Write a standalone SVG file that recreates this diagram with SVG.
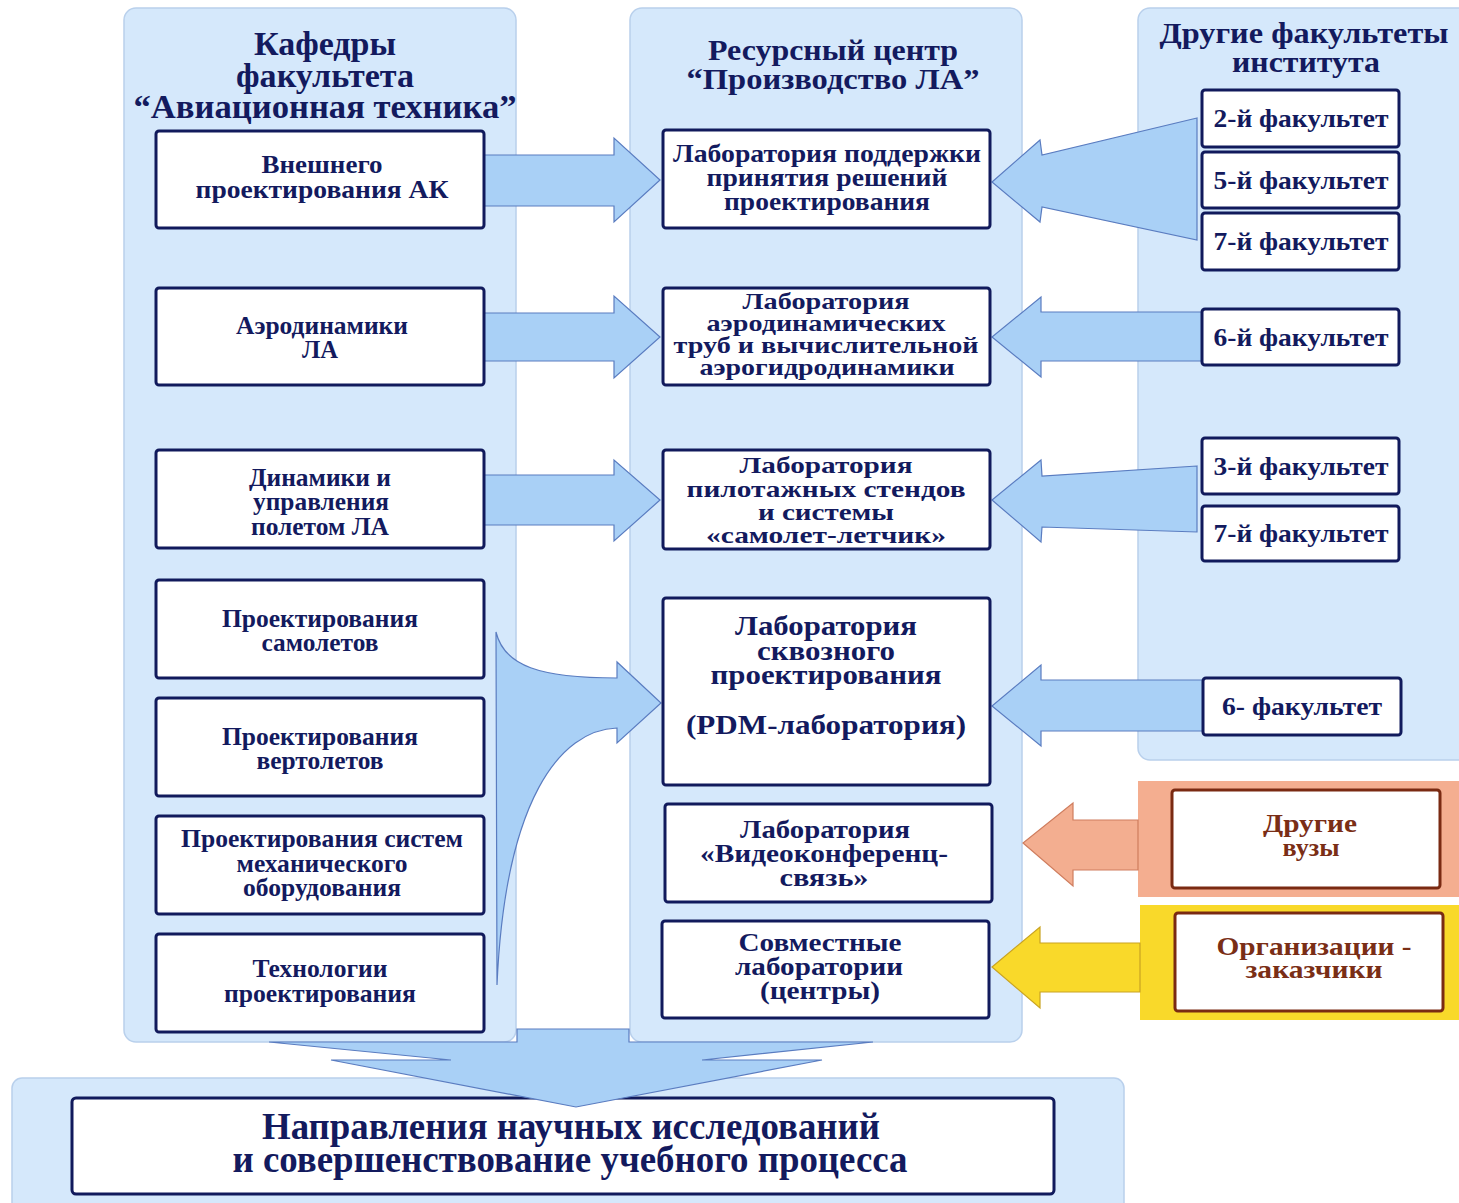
<svg xmlns="http://www.w3.org/2000/svg" width="1459" height="1203" viewBox="0 0 1459 1203">
<style>
.bg{fill:#ffffff}
.panel{fill:#d5e8fb;stroke:#b9d0ec;stroke-width:1.5}
.node{fill:#ffffff;stroke:#111a5c;stroke-width:3}
.bnode{fill:#ffffff;stroke:#7a2a12;stroke-width:3}
.arr{fill:#a9d0f6;stroke:#5a7cc0;stroke-width:1.2}
.oarr{fill:#f3ae90;stroke:#cf7d5e;stroke-width:1.2}
.yarr{fill:#f9d92a;stroke:#c9a322;stroke-width:1.2}
text{font-family:"Liberation Serif","Times New Roman",serif;font-weight:bold;fill:#131a5e;text-anchor:middle}
.t{font-size:25px}
.tm{font-size:24px}
.tr{font-size:26px}
.h{font-size:34px}
.h2{font-size:29px}
.br{fill:#7a2e16;font-size:26px}
.big{font-size:38px}
</style>
<rect class="bg" x="0" y="0" width="1459" height="1203"/>

<g id="panel-left"><rect class="panel" x="124" y="8" width="392" height="1034" rx="12"/></g>
<g id="panel-mid"><rect class="panel" x="630" y="8" width="392" height="1034" rx="12"/></g>
<g id="panel-right"><rect class="panel" x="1138" y="8" width="340" height="752" rx="12"/></g>
<g id="panel-bottom"><rect class="panel" x="12" y="1078" width="1112" height="140" rx="10"/></g>
<g id="panel-vuzy"><rect x="1138" y="781" width="330" height="116" fill="#f4ae90"/></g>
<g id="panel-org"><rect x="1140" y="905" width="330" height="115" fill="#f9d92a"/></g>

<g id="result"><rect class="node" x="72" y="1098" width="982" height="96" rx="4"/>
  <text class="big" x="571" y="1139" textLength="618" lengthAdjust="spacingAndGlyphs">Направления научных исследований</text>
  <text class="big" x="570" y="1172" textLength="675" lengthAdjust="spacingAndGlyphs">и совершенствование учебного процесса</text></g>

<g id="connectors">
  <!-- bottom big down arrow -->
  <polygon class="arr" points="269,1042 517,1042 517,1029 629,1029 629,1042 873,1042 702,1060 822,1060 576,1107 331,1060 451,1060"/>
  <!-- left to middle -->
  <polygon class="arr" points="484,155 614,155 614,138 660,180 614,222 614,206 484,206"/>
  <polygon class="arr" points="484,313 614,313 614,296 660,337 614,378 614,361 484,361"/>
  <polygon class="arr" points="484,475 614,475 614,460 660,500 614,541 614,525 484,525"/>
  <!-- curved arrow -->
  <path class="arr" d="M496,632 C504,666 540,678 617,678 L617,662 L661,703 L617,743 L617,728 C560,730 505,800 497,985 Z"/>
  <!-- right to middle -->
  <polygon class="arr" points="1197,118 1042,155 1040,140 992,182 1040,222 1042,207 1197,240"/>
  <polygon class="arr" points="1202,312 1041,312 1041,297 992,337 1041,377 1041,361 1202,361"/>
  <polygon class="arr" points="1197,466 1042,476 1041,460 992,500 1041,542 1042,527 1197,532"/>
  <polygon class="arr" points="1203,680 1041,680 1041,665 992,706 1041,746 1041,731 1203,731"/>
  <polygon class="oarr" points="1138,820 1073,820 1073,803 1023,843 1073,886 1073,870 1138,870"/>
  <polygon class="yarr" points="1140,943 1040,943 1040,927 992,967 1040,1008 1040,992 1140,992"/>
</g>

<g id="header-left">
  <text class="h" x="325" y="55" textLength="142" lengthAdjust="spacingAndGlyphs">Кафедры</text>
  <text class="h" x="325" y="87" textLength="178" lengthAdjust="spacingAndGlyphs">факультета</text>
  <text class="h" x="325" y="118" textLength="383" lengthAdjust="spacingAndGlyphs">“Авиационная техника”</text>
</g>
<g id="header-mid">
  <text class="h2" x="833" y="60" textLength="250" lengthAdjust="spacingAndGlyphs">Ресурсный центр</text>
  <text class="h2" x="833" y="89" textLength="293" lengthAdjust="spacingAndGlyphs">“Производство ЛА”</text>
</g>
<g id="header-right">
  <text class="h2" x="1304" y="43" textLength="289" lengthAdjust="spacingAndGlyphs">Другие факультеты</text>
  <text class="h2" x="1306" y="72" textLength="148" lengthAdjust="spacingAndGlyphs">института</text>
</g>

<g id="k1"><rect class="node" x="156" y="131" width="328" height="97" rx="3"/>
  <text class="t" x="322" y="173" textLength="121" lengthAdjust="spacingAndGlyphs">Внешнего</text>
  <text class="t" x="322" y="198" textLength="253" lengthAdjust="spacingAndGlyphs">проектирования АК</text></g>
<g id="k2"><rect class="node" x="156" y="288" width="328" height="97" rx="3"/>
  <text class="t" x="322" y="334" textLength="172" lengthAdjust="spacingAndGlyphs">Аэродинамики</text>
  <text class="t" x="320" y="358" textLength="36" lengthAdjust="spacingAndGlyphs">ЛА</text></g>
<g id="k3"><rect class="node" x="156" y="450" width="328" height="98" rx="3"/>
  <text class="t" x="320" y="486" textLength="142" lengthAdjust="spacingAndGlyphs">Динамики и</text>
  <text class="t" x="321" y="510" textLength="136" lengthAdjust="spacingAndGlyphs">управления</text>
  <text class="t" x="320" y="535" textLength="138" lengthAdjust="spacingAndGlyphs">полетом ЛА</text></g>
<g id="k4"><rect class="node" x="156" y="580" width="328" height="98" rx="3"/>
  <text class="t" x="320" y="627" textLength="196" lengthAdjust="spacingAndGlyphs">Проектирования</text>
  <text class="t" x="320" y="651" textLength="117" lengthAdjust="spacingAndGlyphs">самолетов</text></g>
<g id="k5"><rect class="node" x="156" y="698" width="328" height="98" rx="3"/>
  <text class="t" x="320" y="745" textLength="196" lengthAdjust="spacingAndGlyphs">Проектирования</text>
  <text class="t" x="320" y="769" textLength="127" lengthAdjust="spacingAndGlyphs">вертолетов</text></g>
<g id="k6"><rect class="node" x="156" y="816" width="328" height="98" rx="3"/>
  <text class="t" x="322" y="847" textLength="282" lengthAdjust="spacingAndGlyphs">Проектирования систем</text>
  <text class="t" x="322" y="872" textLength="171" lengthAdjust="spacingAndGlyphs">механического</text>
  <text class="t" x="322" y="896" textLength="158" lengthAdjust="spacingAndGlyphs">оборудования</text></g>
<g id="k7"><rect class="node" x="156" y="934" width="328" height="98" rx="3"/>
  <text class="t" x="320" y="977" textLength="135" lengthAdjust="spacingAndGlyphs">Технологии</text>
  <text class="t" x="320" y="1002" textLength="192" lengthAdjust="spacingAndGlyphs">проектирования</text></g>

<g id="l1"><rect class="node" x="663" y="130" width="327" height="98" rx="3"/>
  <text class="t" x="827" y="162" textLength="308" lengthAdjust="spacingAndGlyphs">Лаборатория поддержки</text>
  <text class="t" x="827" y="186" textLength="241" lengthAdjust="spacingAndGlyphs">принятия решений</text>
  <text class="t" x="827" y="210" textLength="206" lengthAdjust="spacingAndGlyphs">проектирования</text></g>
<g id="l2"><rect class="node" x="663" y="288" width="327" height="97" rx="3"/>
  <text class="tm" x="826" y="309" textLength="167" lengthAdjust="spacingAndGlyphs">Лаборатория</text>
  <text class="tm" x="826" y="331" textLength="239" lengthAdjust="spacingAndGlyphs">аэродинамических</text>
  <text class="tm" x="826" y="353" textLength="305" lengthAdjust="spacingAndGlyphs">труб и вычислительной</text>
  <text class="tm" x="827" y="375" textLength="255" lengthAdjust="spacingAndGlyphs">аэрогидродинамики</text></g>
<g id="l3"><rect class="node" x="663" y="450" width="327" height="99" rx="3"/>
  <text class="tm" x="826" y="473" textLength="173" lengthAdjust="spacingAndGlyphs">Лаборатория</text>
  <text class="tm" x="826" y="497" textLength="279" lengthAdjust="spacingAndGlyphs">пилотажных стендов</text>
  <text class="tm" x="826" y="520" textLength="136" lengthAdjust="spacingAndGlyphs">и системы</text>
  <text class="tm" x="826" y="543" textLength="240" lengthAdjust="spacingAndGlyphs">«самолет-летчик»</text></g>
<g id="l4"><rect class="node" x="663" y="598" width="327" height="187" rx="3"/>
  <text class="t" x="826" y="635" textLength="182" lengthAdjust="spacingAndGlyphs" style="font-size:27px">Лаборатория</text>
  <text class="t" x="826" y="660" textLength="138" lengthAdjust="spacingAndGlyphs" style="font-size:27px">сквозного</text>
  <text class="t" x="826" y="684" textLength="231" lengthAdjust="spacingAndGlyphs" style="font-size:27px">проектирования</text>
  <text class="t" x="826" y="734" textLength="280" lengthAdjust="spacingAndGlyphs" style="font-size:27px">(PDM-лаборатория)</text></g>
<g id="l5"><rect class="node" x="665" y="804" width="327" height="98" rx="3"/>
  <text class="t" x="825" y="838" textLength="170" lengthAdjust="spacingAndGlyphs">Лаборатория</text>
  <text class="t" x="824" y="862" textLength="248" lengthAdjust="spacingAndGlyphs">«Видеоконференц-</text>
  <text class="t" x="824" y="886" textLength="89" lengthAdjust="spacingAndGlyphs">связь»</text></g>
<g id="l6"><rect class="node" x="662" y="921" width="327" height="97" rx="3"/>
  <text class="t" x="820" y="951" textLength="163" lengthAdjust="spacingAndGlyphs">Совместные</text>
  <text class="t" x="819" y="975" textLength="168" lengthAdjust="spacingAndGlyphs">лаборатории</text>
  <text class="t" x="820" y="999" textLength="120" lengthAdjust="spacingAndGlyphs">(центры)</text></g>

<g id="f2"><rect class="node" x="1202" y="90" width="197" height="57" rx="3"/>
  <text class="tr" x="1301" y="127" textLength="175" lengthAdjust="spacingAndGlyphs">2-й факультет</text></g>
<g id="f5"><rect class="node" x="1202" y="152" width="197" height="56" rx="3"/>
  <text class="tr" x="1301" y="189" textLength="175" lengthAdjust="spacingAndGlyphs">5-й факультет</text></g>
<g id="f7a"><rect class="node" x="1202" y="213" width="197" height="57" rx="3"/>
  <text class="tr" x="1301" y="250" textLength="175" lengthAdjust="spacingAndGlyphs">7-й факультет</text></g>
<g id="f6a"><rect class="node" x="1202" y="309" width="197" height="56" rx="3"/>
  <text class="tr" x="1301" y="346" textLength="175" lengthAdjust="spacingAndGlyphs">6-й факультет</text></g>
<g id="f3"><rect class="node" x="1202" y="438" width="197" height="56" rx="3"/>
  <text class="tr" x="1301" y="475" textLength="175" lengthAdjust="spacingAndGlyphs">3-й факультет</text></g>
<g id="f7b"><rect class="node" x="1202" y="506" width="197" height="55" rx="3"/>
  <text class="tr" x="1301" y="542" textLength="175" lengthAdjust="spacingAndGlyphs">7-й факультет</text></g>
<g id="f6b"><rect class="node" x="1203" y="678" width="198" height="57" rx="3"/>
  <text class="tr" x="1302" y="715" textLength="160" lengthAdjust="spacingAndGlyphs">6- факультет</text></g>

<g id="vuzy"><rect class="bnode" x="1172" y="790" width="268" height="98" rx="3"/>
  <text class="br" x="1310" y="832" textLength="94" lengthAdjust="spacingAndGlyphs">Другие</text>
  <text class="br" x="1311" y="856" textLength="57" lengthAdjust="spacingAndGlyphs">вузы</text></g>
<g id="org"><rect class="bnode" x="1175" y="913" width="268" height="98" rx="3"/>
  <text class="br" x="1314" y="955" textLength="195" lengthAdjust="spacingAndGlyphs">Организации -</text>
  <text class="br" x="1314" y="978" textLength="137" lengthAdjust="spacingAndGlyphs">заказчики</text></g>
</svg>
